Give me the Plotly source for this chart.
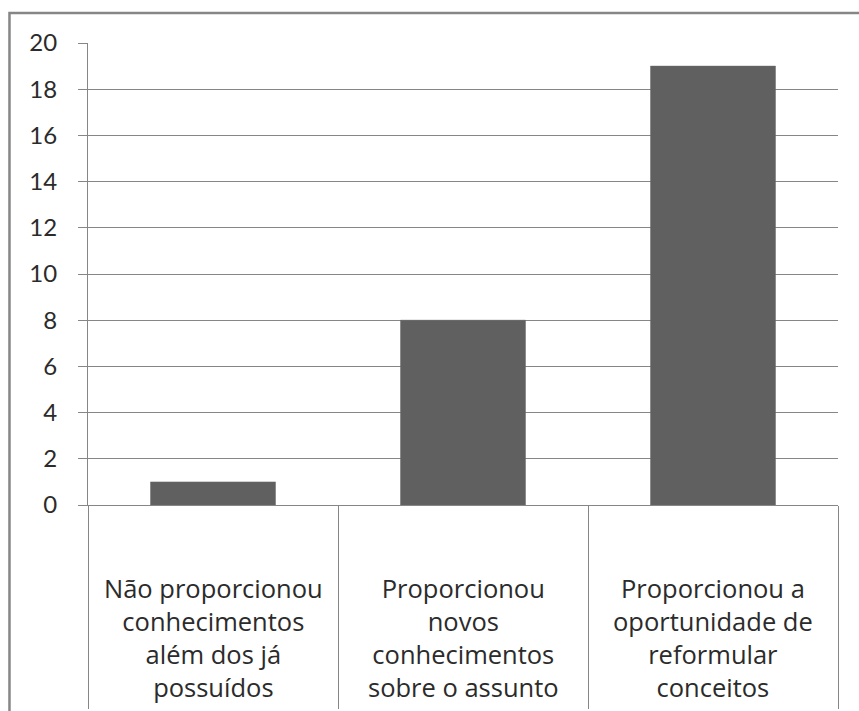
import plotly.graph_objects as go

categories = [
    "Não proporcionou<br>conhecimentos<br>além dos já<br>possuídos",
    "Proporcionou<br>novos<br>conhecimentos<br>sobre o assunto",
    "Proporcionou a<br>oportunidade de<br>reformular<br>conceitos",
]
values = [1, 8, 19]
y_ticks = [0, 2, 4, 6, 8, 10, 12, 14, 16, 18, 20]

GRID = "#868686"
FONT = "Lato, Open Sans, sans-serif"
LABEL_FONT = "Open Sans, Lato, sans-serif"

fig = go.Figure(go.Bar(
    x=categories, y=values,
    marker=dict(color="#606060", line=dict(color="#6a6a6a", width=0.5)),
    width=0.5,
))

for c in categories:
    fig.add_annotation(
        x=c, xref="x", y=-0.139, yref="paper", yanchor="top",
        text=c, showarrow=False, align="center",
        font=dict(family=LABEL_FONT, size=25.5, color="#2b2b2b"),
    )

# outer frame (cropped on the right and bottom in the reference)
fig.add_shape(type="rect", xref="paper", yref="paper",
              x0=-0.1047, x1=1.2, y0=-0.6, y1=1.0652,
              line=dict(color=GRID, width=2.5), layer="below")

fig.update_layout(
    width=859, height=720,
    margin=dict(l=88, r=21, t=43, b=211),
    paper_bgcolor="white", plot_bgcolor="white",
    showlegend=False,
    font=dict(family=FONT, size=24, color="#2b2b2b"),
    xaxis=dict(
        type="category", tickson="boundaries",
        ticks="outside", ticklen=203, tickwidth=1, tickcolor=GRID,
        showticklabels=False, showgrid=False,
        showline=True, linecolor=GRID, linewidth=1,
    ),
    yaxis=dict(
        range=[0, 20], tickvals=y_ticks,
        ticks="outside", ticklen=9, tickcolor=GRID, tickwidth=1,
        showgrid=True, gridcolor=GRID, gridwidth=1,
        showline=True, linecolor=GRID, linewidth=1,
        zeroline=False, ticklabelstandoff=16,
        tickfont=dict(family=FONT, size=24, color="#2b2b2b"),
    ),
)

post = (
    "document.body.style.margin='0';"
    "document.body.style.overflow='hidden';"
    "document.documentElement.style.overflow='hidden';"
)
fig.write_html("out.html", post_script=post, config={"displayModeBar": False})
